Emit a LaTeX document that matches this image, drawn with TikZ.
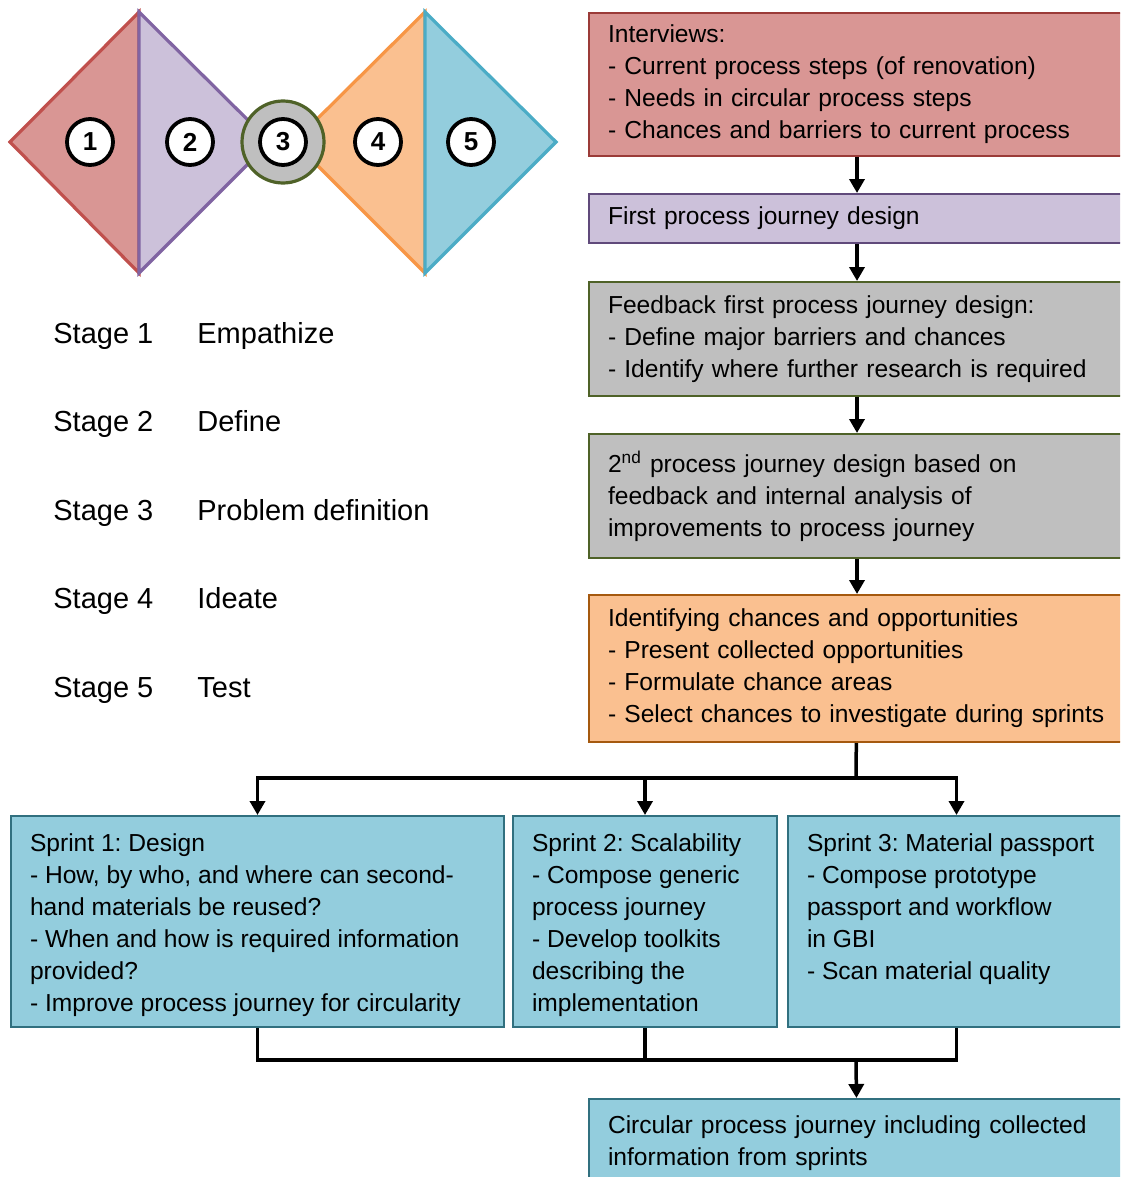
\documentclass[tikz,border=0pt]{standalone}
\usepackage{fontspec}
\setmainfont{Liberation Sans}
\frenchspacing
\usetikzlibrary{arrows.meta,positioning}
\definecolor{redfill}{HTML}{D99694}
\definecolor{redline}{HTML}{C0504D}
\definecolor{redbd}{HTML}{9B3B38}
\definecolor{purplefill}{HTML}{CCC1DA}
\definecolor{purpleline}{HTML}{8064A2}
\definecolor{purplebd}{HTML}{604A7B}
\definecolor{grayfill}{HTML}{BFBFBF}
\definecolor{olivebd}{HTML}{4F6228}
\definecolor{orangefill}{HTML}{FAC090}
\definecolor{orangeline}{HTML}{F79646}
\definecolor{orangebd}{HTML}{A5590F}
\definecolor{bluefill}{HTML}{93CDDD}
\definecolor{blueline}{HTML}{4BACC6}
\definecolor{bluebd}{HTML}{31707F}
\tikzset{
	stepbox/.style={draw, line width=1pt, anchor=north west, align=left, text width=249pt, inner xsep=9.5pt, inner ysep=0pt, font=\fontsize{12.3}{16}\selectfont},
	sprintbox/.style={draw=bluebd, fill=bluefill, line width=1pt, anchor=north west, inner xsep=9.5pt, inner ysep=6.6pt, font=\fontsize{12.3}{16}\selectfont},
	flow/.style={line width=1.75pt},
	flowarrow/.style={flow, -{Triangle[width=7.5pt,length=7pt]}},
	stagelabel/.style={anchor=base west, inner sep=0pt, font=\fontsize{14.5}{17}\selectfont},
	numdot/.style={circle, draw, fill=white, line width=1.9pt, minimum size=23pt, inner sep=0pt, font=\fontsize{13}{13}\selectfont\bfseries},
	tri/.style={line width=1.6pt}
}
\begin{document}
\begin{tikzpicture}[x=0.5pt,y=-0.5pt]
	\useasboundingbox (0,0) rectangle (1120,1177);
	\clip (0,0) rectangle (1120,1177);
	\filldraw[tri, draw=redline, fill=redfill] (10,142) -- (139,12) -- (139,273) -- cycle;
	\filldraw[tri, draw=purpleline, fill=purplefill] (139,12) -- (270,142) -- (139,273) -- cycle;
	\filldraw[tri, draw=orangeline, fill=orangefill] (425,12) -- (294,142) -- (425,273) -- cycle;
	\filldraw[tri, draw=blueline, fill=bluefill] (425,12) -- (556,142) -- (425,273) -- cycle;
	\node[circle, draw=olivebd, fill=grayfill, line width=1.6pt, minimum size=41pt] (hub) at (283,142) {};
	\node[numdot] (n1) at (90,142) {1};
	\node[numdot] (n2) at (190,142) {2};
	\node[numdot] (n3) at (283,142) {3};
	\node[numdot] (n4) at (378,142) {4};
	\node[numdot] (n5) at (471,142) {5};
	\node[stagelabel] (st1) at (53,343) {Stage 1};
	\node[stagelabel] (sn1) at (197,343) {Empathize};
	\node[stagelabel] (st2) at (53,431) {Stage 2};
	\node[stagelabel] (sn2) at (197,431) {Define};
	\node[stagelabel] (st3) at (53,520) {Stage 3};
	\node[stagelabel] (sn3) at (197,520) {Problem definition};
	\node[stagelabel] (st4) at (53,608) {Stage 4};
	\node[stagelabel] (sn4) at (197,608) {Ideate};
	\node[stagelabel] (st5) at (53,697) {Stage 5};
	\node[stagelabel] (sn5) at (197,697) {Test};
	\node[stepbox, draw=redbd, fill=redfill, minimum height=71.5pt] (interviews) at (588,12) {Interviews:\\- Current process steps (of renovation)\\- Needs in circular process steps\\- Chances and barriers to current process};
	\node[stepbox, draw=purplebd, fill=purplefill, minimum height=24.5pt] (first) at (588,193) {First process journey design};
	\node[stepbox, draw=olivebd, fill=grayfill, minimum height=57pt] (feedback) at (588,281) {Feedback first process journey design:\\- Define major barriers and chances\\- Identify where further research is required};
	\node[stepbox, draw=olivebd, fill=grayfill, minimum height=62pt] (second) at (588,433) {2\textsuperscript{nd} process journey design based on\\feedback and internal analysis of\\improvements to process journey};
	\node[stepbox, draw=orangebd, fill=orangefill, minimum height=73.5pt] (chances) at (588,594) {Identifying chances and opportunities\\- Present collected opportunities\\- Formulate chance areas\\- Select chances to investigate during sprints};
	\node[sprintbox] (sprint1) at (10,815) {\parbox[c][92.3pt][t]{227.5pt}{\strut Sprint 1: Design\\- How, by who, and where can second-\\hand materials be reused?\\- When and how is required information\\provided?\\- Improve process journey for circularity}};
	\node[sprintbox] (sprint2) at (512,815) {\parbox[c][92.3pt][t]{113pt}{\strut Sprint 2: Scalability\\- Compose generic\\process journey\\- Develop toolkits\\describing the\\implementation}};
	\node[sprintbox] (sprint3) at (787,815) {\parbox[c][92.3pt][t]{149.5pt}{\strut Sprint 3: Material passport\\- Compose prototype\\passport and workflow\\in GBI\\- Scan material quality}};
	\node[stepbox, draw=bluebd, fill=bluefill, minimum height=44pt] (result) at (588,1098) {Circular process journey including collected\\information from sprints};
	\coordinate (split) at (856,778);
	\coordinate (join) at (856,1060);
	\draw[flowarrow] (interviews) -- (first);
	\draw[flowarrow] (first) -- (feedback);
	\draw[flowarrow] (feedback) -- (second);
	\draw[flowarrow] (second) -- (chances);
	\draw[flow] (chances) -- (split);
	\draw[flowarrow] (split) -| (sprint1);
	\draw[flowarrow] (split) -| (sprint2);
	\draw[flowarrow] (split) -| (sprint3);
	\draw[flow] (sprint1) |- (join);
	\draw[flow] (sprint2) |- (join);
	\draw[flow] (sprint3) |- (join);
	\draw[flowarrow] (join) -- (result);
\end{tikzpicture}
\end{document}
